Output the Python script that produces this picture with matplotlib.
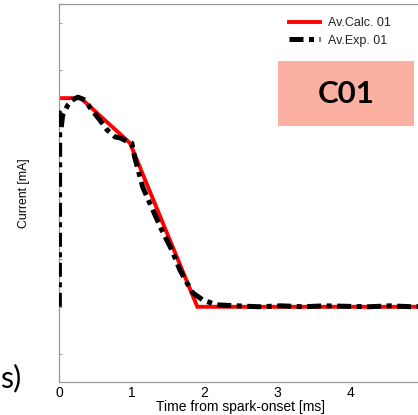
import matplotlib
matplotlib.use("Agg")
import matplotlib.pyplot as plt
from matplotlib.patches import Rectangle

plt.rcParams['font.family'] = ['Liberation Sans', 'DejaVu Sans']

# Data (arbitrary current units; y-axis has no labels)
calc_t = [0.0, 0.30, 0.975, 1.90, 5.0]
calc_i = [5.41, 5.41, 4.46, 1.0, 1.0]

exp_t = [0.005, 0.01, 0.03, 0.05, 0.12, 0.18, 0.26, 0.36, 0.43, 0.56, 0.66, 0.77,
         0.84, 0.93, 1.00, 1.04, 1.15, 1.29, 1.43, 1.55, 1.66, 1.76, 1.84, 1.98,
         2.17, 2.45, 2.75, 3.05, 3.35, 3.65, 3.95, 4.25, 4.55, 4.85, 5.0]
exp_i = [1.0, 5.10, 4.78, 5.05, 5.26, 5.37, 5.43, 5.37, 5.20, 4.95, 4.74, 4.59,
         4.57, 4.50, 4.46, 4.16, 3.53, 3.04, 2.56, 2.20, 1.78, 1.50, 1.29, 1.14,
         1.04, 1.02, 1.00, 1.02, 1.00, 1.02, 1.01, 1.00, 1.02, 1.00, 1.01]

xticks = [0, 1, 2, 3, 4]
yticks = [0, 1, 2, 3, 4, 5, 6, 7]

W, H = 418, 415
fig = plt.figure(figsize=(W / 100, H / 100), dpi=100)
ax = fig.add_axes([59 / W, 33 / H, 364 / W, 378 / H])

ax.plot(calc_t, calc_i, color='#ff0000', lw=2.8, label='Av.Calc. 01', zorder=2,
        solid_joinstyle='miter')
ax.plot(exp_t, exp_i, color='black', lw=3.6, dashes=(2.8, 1.1, 1.0, 1.1),
        label='Av.Exp. 01', zorder=3)

ax.set_xlim(0, 5)
ax.set_ylim(-0.59, 7.4)
ax.set_xticks(xticks)
ax.set_yticks(yticks)
ax.set_yticklabels([])
ax.tick_params(axis='both', direction='in', length=2, width=0.6, color='#888888',
               labelsize=10, pad=2)
ax.tick_params(axis='x', length=0, pad=3)
for s in ['left', 'bottom', 'top']:
    ax.spines[s].set_color('#999999')
    ax.spines[s].set_linewidth(0.9)
ax.spines['right'].set_visible(False)

ax.set_xlabel('Time from spark-onset [ms]', fontsize=10, labelpad=0)
ax.set_ylabel('Current [mA]', fontsize=8.8, labelpad=19)

leg = fig.legend(loc='upper left', bbox_to_anchor=(289 / W, 1 - 17 / H), frameon=False,
                 fontsize=9, handlelength=2.5, handletextpad=0.65, labelspacing=0.45,
                 borderaxespad=0, borderpad=0)
for t in leg.get_texts():
    t.set_color('#222222')

fig.patches.append(Rectangle((278 / W, 1 - 126 / H), 136 / W, 65 / H,
                             transform=fig.transFigure, facecolor='#fcb0a2',
                             edgecolor='none', zorder=5))
fig.text(346 / W, 1 - 94 / H, 'C01', fontsize=22.5, fontweight='bold',
         family=['Lato', 'DejaVu Sans'], ha='center', va='center', zorder=6)

fig.text(0, 1 - 378 / H, 's)', fontsize=22, family=['Lato', 'DejaVu Sans'],
         ha='left', va='center')

fig.savefig('out.png', dpi=100)
